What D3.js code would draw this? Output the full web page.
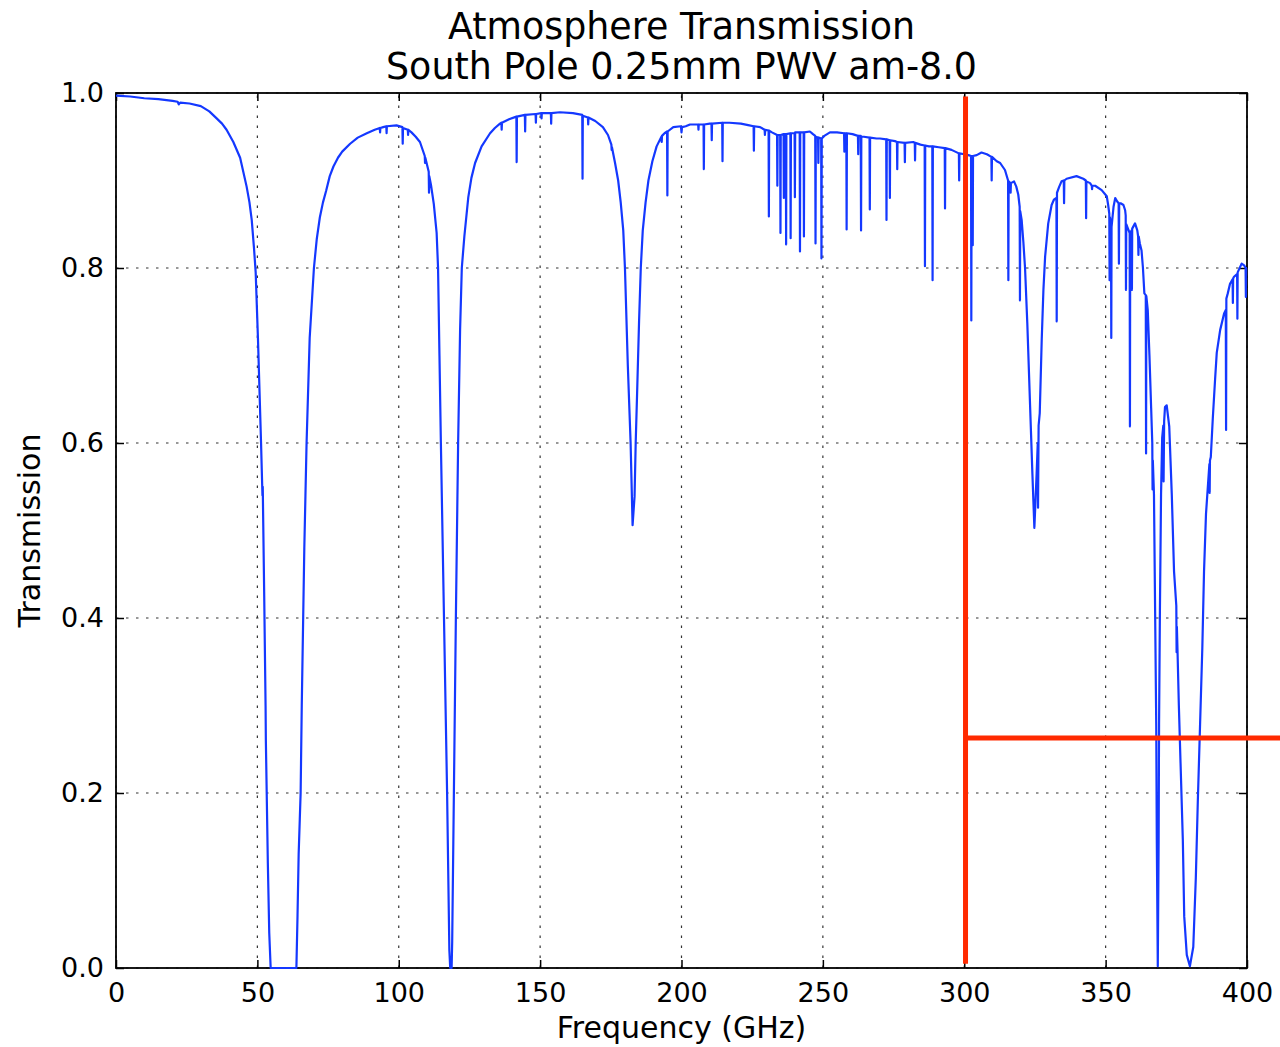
<!DOCTYPE html>
<html><head><meta charset="utf-8">
<script src="https://cdn.jsdelivr.net/npm/d3@7"></script>
<style>body{margin:0;background:#fff} text{font-family:"DejaVu Sans",sans-serif}</style>
</head><body>
<svg id="c" width="1280" height="1047"></svg>
<script>
// ---- data: [frequency GHz, transmission] ----
const band_0_64 = [
[0,0.997],[5,0.996],[10,0.994],[15,0.993],[20,0.991],[21.8,0.990],[22.2,0.987],[22.7,0.989],[26,0.988],[30,0.985],[33,0.979],[35.6,0.971],[37.5,0.965],[39.1,0.958],[41.5,0.944],[43.9,0.926],[46.2,0.893],[47.2,0.875],[48.0,0.855],[48.8,0.823],[49.4,0.795],[50.2,0.72],[51.3,0.60],[51.8,0.54],[51.9,0.55],[52.4,0.43],[52.9,0.30],[53.0,0.26],[53.3,0.20],[53.7,0.12],[54.2,0.04],[54.7,0.0],[63.8,0.0]
];
const band_64_130 = [
[64.2,0.06],[64.6,0.13],[65.0,0.17],[65.3,0.2],[65.7,0.3],[66.2,0.4],[66.6,0.48],[67.0,0.54],[67.4,0.6],[68.5,0.72],[70.0,0.8],[71.0,0.833],[72.1,0.858],[73.2,0.875],[74.3,0.888],[75.6,0.905],[76.9,0.916],[78.5,0.926],[80,0.933],[82.8,0.942],[85.5,0.949],[88.7,0.954],[91.5,0.958],[93.3,0.960],[93.4,0.955],[93.5,0.960],[94.5,0.961],[95.6,0.962],[95.7,0.954],[95.8,0.962],[99.2,0.963],[101.3,0.961],[101.4,0.942],[101.5,0.960],[103.2,0.958],[103.3,0.952],[103.4,0.958],[104.5,0.955],[106,0.950],[107.5,0.944],[109.2,0.928],[109.3,0.92],[109.4,0.926],[110.6,0.910],[110.7,0.886],[110.8,0.905],[111.4,0.895],[112.4,0.873],[113.4,0.84],[113.9,0.80],[114.4,0.70],[114.9,0.60],[116.0,0.40],[117.1,0.20],[117.9,0.02],[118.2,0.0],[118.7,0.0],[118.9,0.03],[119.5,0.20],[120.2,0.40],[121.0,0.60],[121.7,0.73],[122.3,0.80],[123.2,0.836],[124.6,0.881],[125.7,0.903],[127,0.92],[129.3,0.939]
];
const band_130_200 = [
[132.3,0.954],[134,0.96],[135.8,0.965],[136.3,0.966],[136.4,0.958],[136.5,0.966],[139,0.970],[141.6,0.973],[141.7,0.921],[141.8,0.973],[144.6,0.975],[144.7,0.956],[144.8,0.975],[148.4,0.976],[148.5,0.966],[148.6,0.976],[150.4,0.977],[150.5,0.971],[150.6,0.977],[153.8,0.977],[153.9,0.965],[154.0,0.977],[157,0.978],[161.6,0.977],[164.9,0.975],[165.0,0.902],[165.1,0.974],[166.9,0.972],[167.0,0.964],[167.1,0.972],[169.5,0.968],[172.2,0.961],[174,0.952],[175.2,0.941],[175.3,0.935],[175.4,0.938],[176.5,0.92],[177.6,0.90],[178.5,0.875],[179.4,0.843],[180.0,0.80],[181.0,0.69],[182.0,0.60],[182.7,0.506],[183.4,0.539],[183.8,0.60],[184.3,0.657],[185.0,0.74],[185.6,0.80],[186.3,0.843],[187.3,0.875],[188.3,0.90],[189.7,0.922],[191.2,0.939],[192.9,0.950],[193.0,0.944],[193.1,0.951],[194,0.954],[194.9,0.956],[195.0,0.883],[195.1,0.956],[197.1,0.961],[199.8,0.962],[200.0,0.955],[200.2,0.961]
];
const band_200_300 = [
[201.5,0.962],[203,0.964],[205.9,0.964],[206.0,0.958],[206.1,0.964],[207.8,0.964],[207.9,0.913],[208.0,0.964],[210,0.965],[210.6,0.965],[210.7,0.946],[210.8,0.965],[214.4,0.966],[214.5,0.922],[214.6,0.966],[217,0.966],[221,0.965],[224,0.963],[225.5,0.962],[225.6,0.934],[225.7,0.962],[227.8,0.961],[229.4,0.958],[229.5,0.952],[229.6,0.958],[230.8,0.957],[230.9,0.859],[231.0,0.957],[232,0.955],[233.8,0.952],[233.9,0.894],[234.0,0.952],[234.9,0.952],[235.0,0.84],[235.1,0.952],[236.1,0.953],[236.2,0.880],[236.3,0.953],[236.9,0.953],[237.0,0.827],[237.1,0.953],[238.5,0.954],[238.6,0.834],[238.7,0.954],[240.0,0.954],[240.1,0.881],[240.2,0.955],[241.8,0.955],[241.9,0.819],[242.0,0.955],[243.2,0.955],[243.3,0.836],[243.4,0.955],[245.4,0.956],[246.5,0.953],[247.3,0.951],[247.4,0.828],[247.5,0.95],[248.3,0.949],[248.4,0.92],[248.5,0.949],[249.4,0.948],[249.5,0.811],[249.6,0.948],[250.5,0.951],[252.5,0.955],[255,0.955],[257.5,0.954],[257.6,0.933],[257.7,0.954],[258.3,0.954],[258.4,0.844],[258.5,0.954],[260.5,0.953],[262.4,0.951],[262.5,0.93],[262.6,0.951],[263.4,0.951],[263.5,0.843],[263.6,0.95],[264.5,0.95],[266.5,0.949],[266.6,0.867],[266.7,0.949],[269,0.948],[270.2,0.948],[272.4,0.947],[272.5,0.855],[272.6,0.947],[273.6,0.946],[273.7,0.88],[273.8,0.946],[275.5,0.945],[276.2,0.944],[276.3,0.913],[276.4,0.944],[278.9,0.943],[279.0,0.921],[279.1,0.943],[282,0.944],[282.5,0.943],[282.6,0.923],[282.7,0.943],[284.5,0.941],[286.0,0.94],[286.1,0.802],[286.2,0.94],[287.5,0.939],[288.7,0.939],[288.8,0.786],[288.9,0.939],[291,0.938],[293.1,0.937],[293.2,0.868],[293.3,0.937],[295.5,0.935],[298.1,0.931],[298.2,0.90],[298.3,0.931],[300,0.930]
];
const band_300_350 = [
[301.5,0.929],[302.4,0.928],[302.5,0.74],[302.6,0.928],[302.9,0.928],[303.0,0.826],[303.1,0.928],[304.4,0.929],[306.1,0.932],[308,0.930],[309.6,0.927],[309.7,0.90],[309.8,0.927],[311.5,0.922],[312.7,0.920],[314.4,0.912],[315.5,0.90],[315.6,0.786],[315.7,0.899],[316.3,0.897],[316.4,0.886],[316.5,0.897],[317.6,0.899],[318.4,0.893],[319.1,0.884],[319.6,0.87],[319.7,0.763],[319.8,0.865],[320.3,0.855],[320.9,0.83],[321.5,0.80],[322.3,0.737],[323.3,0.641],[324.1,0.565],[324.8,0.503],[325.6,0.565],[326.0,0.60],[326.1,0.526],[326.3,0.62],[326.7,0.634],[327.4,0.718],[328.0,0.775],[328.6,0.813],[329.7,0.851],[330.9,0.872],[331.7,0.878],[332.6,0.88],[332.7,0.739],[332.8,0.886],[333.6,0.893],[334.4,0.899],[335.2,0.90],[335.3,0.874],[335.4,0.90],[336.2,0.902],[339.7,0.905],[342.1,0.902],[343.0,0.90],[343.1,0.857],[343.2,0.899],[344.5,0.897],[345.1,0.894],[345.2,0.89],[345.3,0.894],[346.3,0.894],[348.6,0.889],[350.4,0.882]
];
const band_350_400 = [
[350.9,0.872],[351.3,0.862],[351.4,0.786],[351.5,0.858],[351.9,0.85],[352.0,0.72],[352.1,0.847],[352.8,0.870],[353.4,0.880],[354.1,0.876],[354.6,0.874],[354.7,0.805],[354.8,0.874],[355.3,0.874],[356.3,0.872],[356.9,0.866],[357.1,0.86],[357.2,0.775],[357.3,0.85],[357.9,0.845],[358.5,0.84],[358.6,0.619],[358.7,0.84],[359.2,0.843],[359.3,0.775],[359.4,0.845],[360.4,0.851],[361.2,0.843],[361.5,0.836],[361.6,0.815],[361.7,0.836],[362.1,0.828],[362.7,0.82],[363.2,0.80],[363.7,0.771],[364.2,0.769],[364.3,0.588],[364.4,0.768],[364.9,0.752],[365.5,0.70],[366.1,0.64],[366.5,0.60],[366.6,0.547],[366.7,0.58],[367.1,0.541],[367.5,0.409],[367.9,0.278],[368.1,0.146],[368.45,0.002],[368.75,0.146],[368.9,0.278],[369.2,0.409],[369.6,0.541],[370.0,0.606],[370.4,0.62],[370.5,0.556],[370.7,0.625],[371.0,0.641],[371.6,0.643],[372.5,0.619],[373.4,0.541],[374.2,0.453],[375.0,0.414],[375.1,0.361],[375.2,0.39],[375.4,0.366],[375.9,0.30],[376.5,0.234],[377.3,0.147],[377.8,0.059],[378.7,0.015],[379.8,0.002],[381.0,0.024],[381.9,0.103],[382.6,0.19],[383.4,0.278],[384.2,0.366],[384.8,0.453],[385.5,0.519],[386.7,0.576],[386.8,0.543],[386.9,0.58],[387.2,0.584],[387.9,0.628],[388.7,0.672],[389.3,0.703],[390.5,0.729],[391.9,0.748],[392.5,0.752],[392.6,0.615],[392.7,0.765],[393.2,0.771],[394.0,0.782],[394.9,0.787],[395.0,0.76],[395.1,0.788],[395.4,0.79],[396.5,0.793],[396.6,0.742],[396.7,0.795],[398.1,0.805],[399.0,0.803],[399.5,0.80],[399.6,0.767],[399.7,0.80],[400,0.80]
];
const xTickValues = [0,50,100,150,200,250,300,350,400];
const yTickValues = [0,0.2,0.4,0.6,0.8,1.0];
const yTickLabels = ["0.0","0.2","0.4","0.6","0.8","1.0"];
const titleLines = ["Atmosphere Transmission","South Pole 0.25mm PWV am-8.0"];
const xLabel = "Frequency (GHz)";
const yLabel = "Transmission";
// red marker (cut at 300 GHz and a transmission level)
const markerFreq = [300.45];
const markerTrans = [0.263];

const spectrum = [].concat(band_0_64, band_64_130, band_130_200, band_200_300, band_300_350, band_350_400);

const W = 1280, H = 1047;
const svg = d3.select("#c");
const x = d3.scaleLinear().domain([0,400]).range([116,1247]);
const y = d3.scaleLinear().domain([0,1]).range([968,93]);

// grid
const grid = svg.append("g");
grid.selectAll("line.gx").data(xTickValues).join("line")
  .attr("x1",d=>x(d)).attr("x2",d=>x(d)).attr("y1",y(0)).attr("y2",y(1))
  .attr("stroke","#333").attr("stroke-width",1.2).attr("stroke-dasharray","2.5,7.5");
grid.selectAll("line.gy").data(yTickValues).join("line")
  .attr("y1",d=>y(d)).attr("y2",d=>y(d)).attr("x1",x(0)).attr("x2",x(400))
  .attr("stroke","#333").attr("stroke-width",1.2).attr("stroke-dasharray","2.5,7.5");

// axes
function styleAxis(g){
  g.select(".domain").remove();
  g.selectAll(".tick line").attr("stroke","#000").attr("stroke-width",1.5);
  g.selectAll(".tick text").attr("font-size",27).attr("fill","#000").attr("font-family","DejaVu Sans");
}
svg.append("g").attr("transform",`translate(0,${y(0)})`)
  .call(d3.axisBottom(x).tickValues(xTickValues).tickSizeInner(-8).tickSizeOuter(0).tickPadding(15).tickFormat(d3.format("d")))
  .call(styleAxis);
svg.append("g").attr("transform",`translate(0,${y(1)})`)
  .call(d3.axisTop(x).tickValues(xTickValues).tickSizeInner(-8).tickSizeOuter(0).tickFormat(""))
  .call(styleAxis);
svg.append("g").attr("transform",`translate(${x(0)},0)`)
  .call(d3.axisLeft(y).tickValues(yTickValues).tickSizeInner(-8).tickSizeOuter(0).tickPadding(12).tickFormat((d,i)=>yTickLabels[i]))
  .call(styleAxis);
svg.append("g").attr("transform",`translate(${x(400)},0)`)
  .call(d3.axisRight(y).tickValues(yTickValues).tickSizeInner(-8).tickSizeOuter(0).tickFormat(""))
  .call(styleAxis);

// frame
svg.append("rect").attr("x",x(0)).attr("y",y(1)).attr("width",x(400)-x(0)).attr("height",y(0)-y(1))
  .attr("fill","none").attr("stroke","#000").attr("stroke-width",1.8);

// spectrum line (on top of frame, like the reference)
svg.append("path").datum(spectrum)
  .attr("fill","none").attr("stroke","#1438ff").attr("stroke-width",2.2)
  .attr("stroke-linejoin","round")
  .attr("d", d3.line().x(d=>x(d[0])).y(d=>y(d[1])));

// titles and labels
svg.selectAll("text.title").data(titleLines).join("text").attr("class","title")
  .attr("x",(x(0)+x(400))/2).attr("y",(d,i)=>39+i*40)
  .attr("text-anchor","middle").attr("font-size",36.4).attr("fill","#000").text(d=>d);
svg.append("text").attr("x",(x(0)+x(400))/2).attr("y",1038).attr("text-anchor","middle")
  .attr("font-size",30).attr("fill","#000").text(xLabel);
svg.append("text").attr("transform",`translate(40,${(y(0)+y(1))/2}) rotate(-90)`).attr("text-anchor","middle")
  .attr("font-size",30).attr("fill","#000").text(yLabel);

// red marker lines
svg.selectAll("line.mv").data(markerFreq).join("line")
  .attr("x1",d=>x(d)).attr("x2",d=>x(d)).attr("y1",y(0.996)).attr("y2",y(0.005))
  .attr("stroke","#ff2a00").attr("stroke-width",5);
svg.selectAll("line.mh").data(markerTrans).join("line")
  .attr("x1",x(markerFreq[0])).attr("x2",W).attr("y1",d=>y(d)).attr("y2",d=>y(d))
  .attr("stroke","#ff2a00").attr("stroke-width",5);
</script>
</body></html>
